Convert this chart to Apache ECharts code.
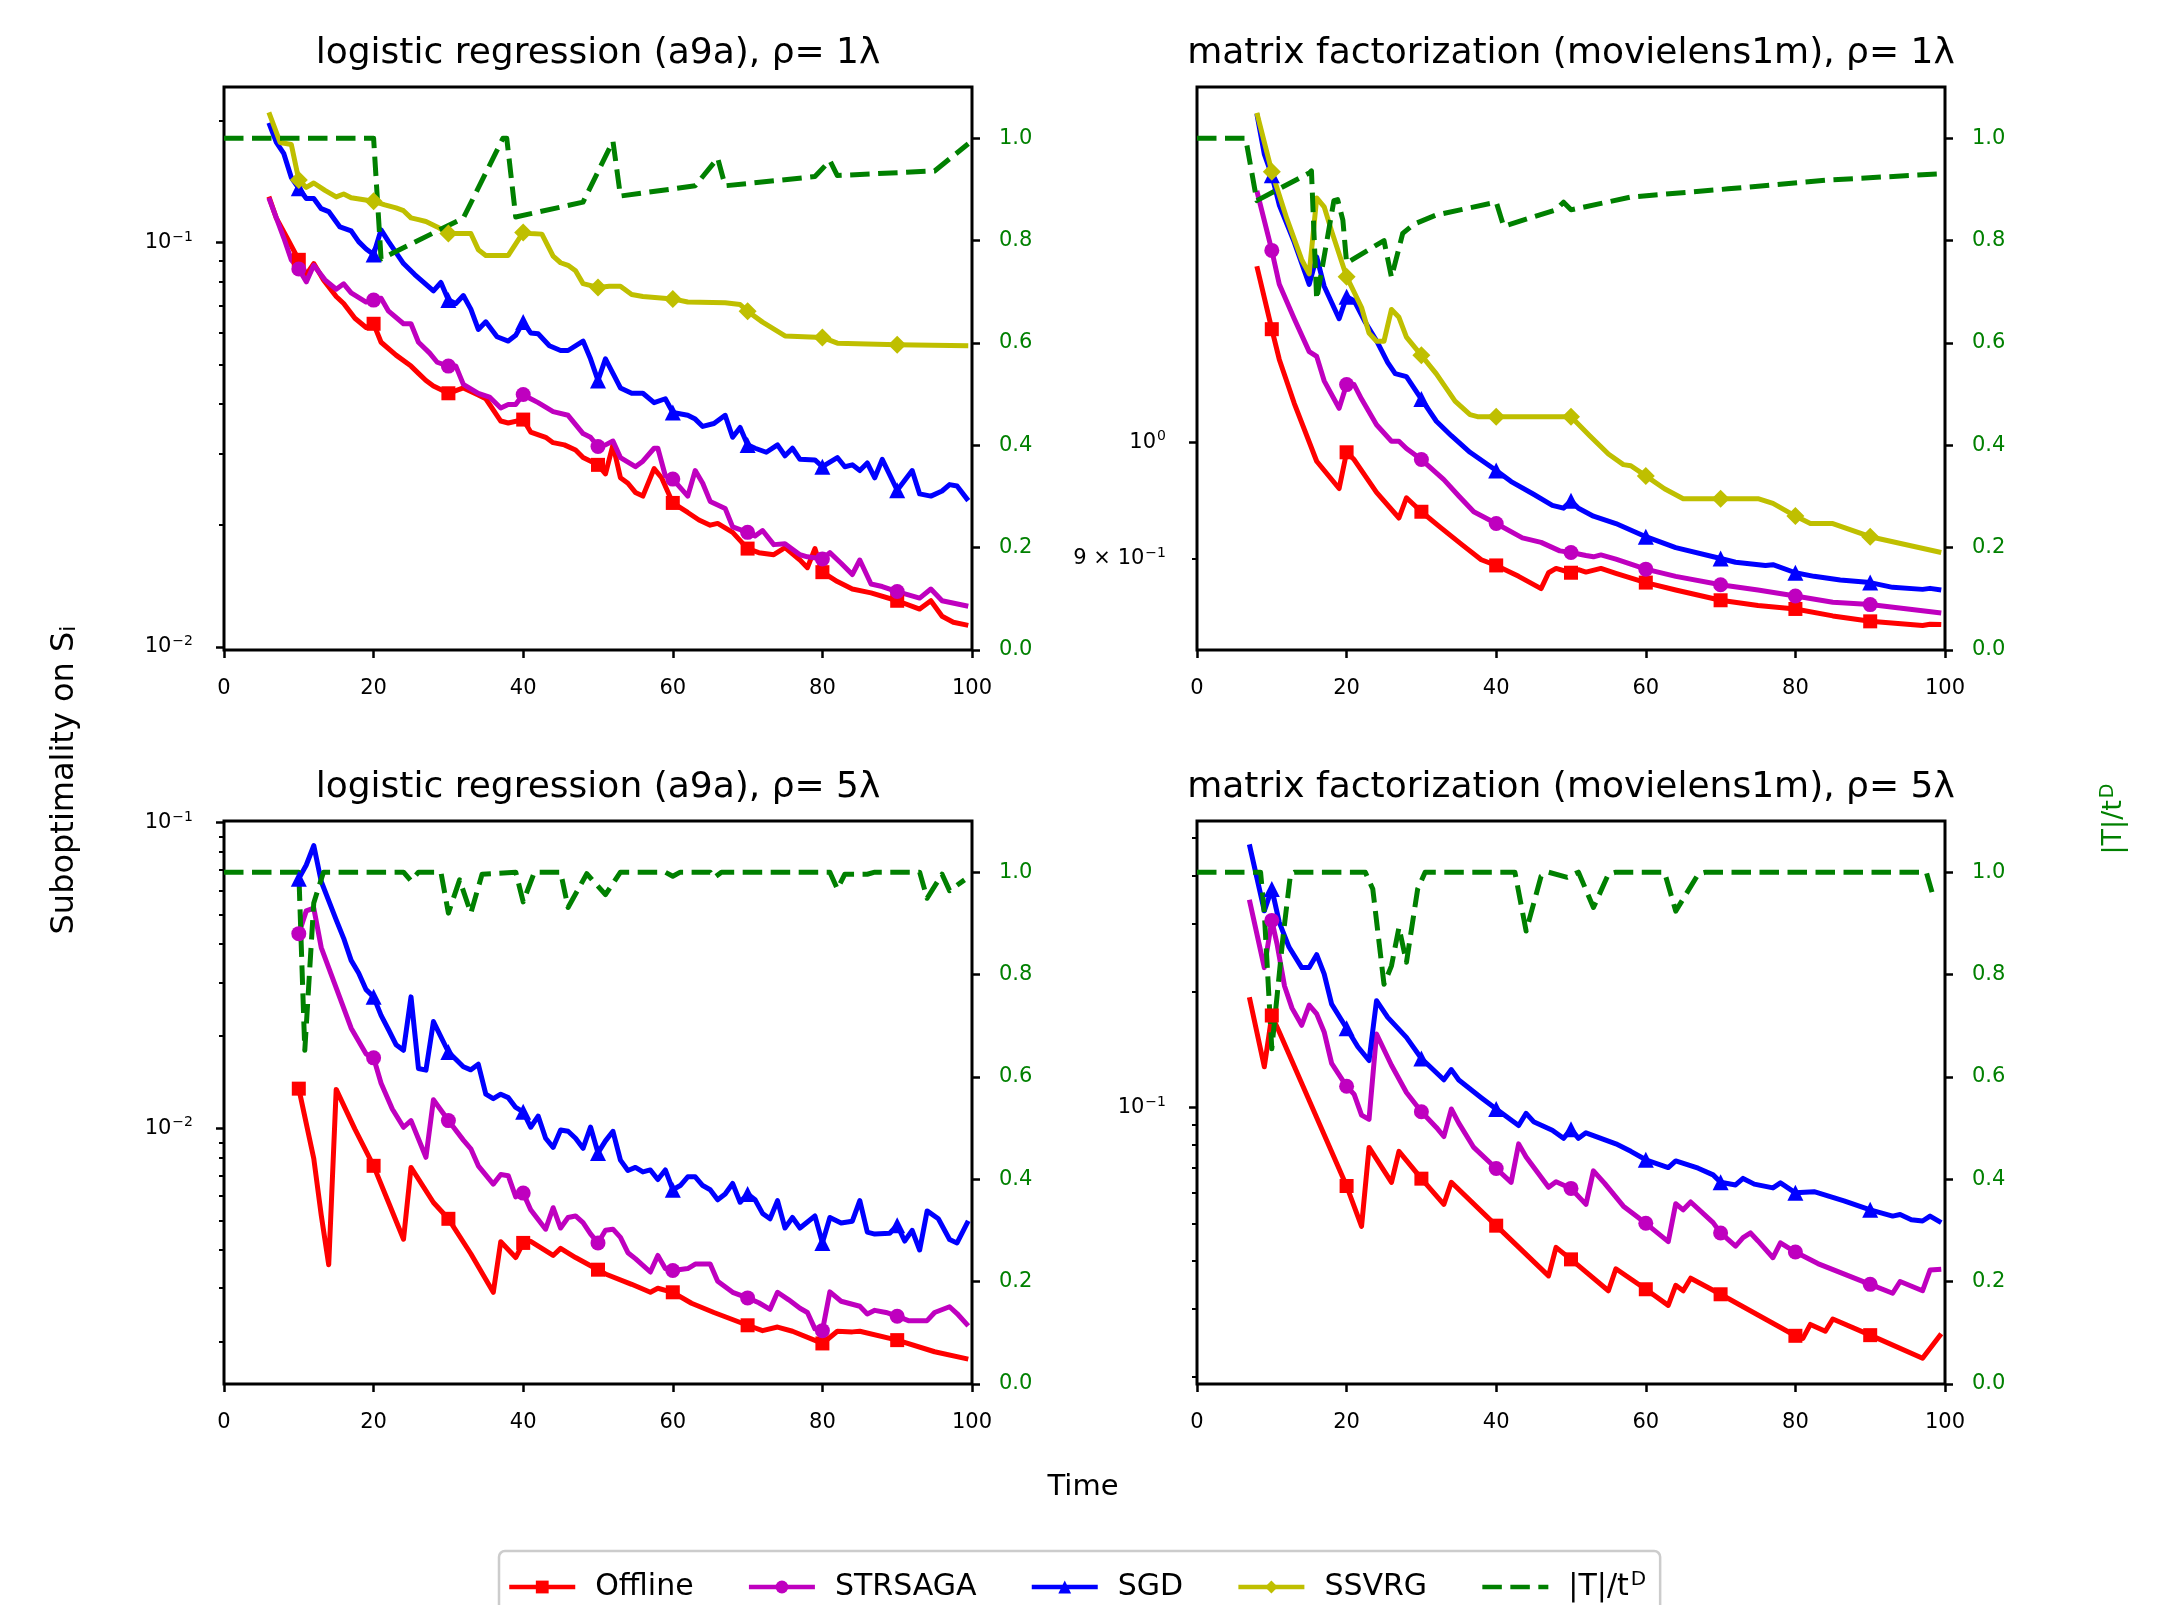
<!DOCTYPE html>
<html>
<head>
<meta charset="utf-8">
<script src="https://cdn.jsdelivr.net/npm/echarts@6/dist/echarts.min.js"></script>
<style>
  html, body { margin: 0; padding: 0; background: #fff; }
  #chart { width: 2175px; height: 1605px; }
</style>
</head>
<body>
<div id="chart"></div>
<script>
// ---- data: logistic regression (a9a), rho = 1 lambda ----
var lr1Offline = [[6,0.130],[7,0.115],[8.4,0.103],[10,0.0907],[11,0.0834],[12,0.0888],[13.3,0.0809],[15,0.0736],[16,0.0707],[17.5,0.065],[19,0.0617],[20,0.063],[21,0.0567],[23,0.0527],[25,0.0495],[26,0.0475],[27,0.0456],[28,0.0442],[30,0.0424],[32,0.0437],[34,0.042],[35,0.0411],[37,0.0362],[38,0.0358],[40,0.0365],[41,0.034],[43,0.033],[44,0.032],[45.5,0.0316],[47,0.0307],[48,0.0294],[50,0.0282],[51,0.0268],[52,0.0316],[53,0.0262],[54,0.0254],[55,0.0241],[56,0.0236],[57.5,0.0276],[58.5,0.0262],[60,0.0227],[62,0.0215],[63.5,0.0206],[65,0.020],[66,0.0202],[68,0.0192],[70,0.0175],[71.5,0.0171],[73.5,0.0169],[75,0.0176],[77,0.0164],[78,0.0157],[79,0.0175],[80,0.0153],[82,0.0145],[84,0.0139],[86.5,0.0136],[90,0.013],[93,0.0124],[94.5,0.013],[96,0.0119],[97.5,0.0115],[99.5,0.0113]];
var lr1Strsaga = [[6,0.129],[8,0.1027],[9,0.0907],[10,0.0861],[11,0.080],[12,0.0879],[13.5,0.0809],[15,0.0767],[16,0.0791],[17,0.0751],[19,0.0713],[20,0.0721],[21,0.0729],[22,0.0677],[24,0.063],[25,0.063],[26,0.0567],[27.5,0.0533],[28.5,0.0506],[30,0.0495],[31,0.0495],[32,0.0446],[34,0.0424],[35.5,0.0415],[37,0.039],[38,0.0398],[39,0.0398],[40,0.0421],[41,0.0411],[42,0.0402],[44,0.0382],[46,0.0374],[48,0.0337],[49,0.033],[50,0.0313],[51,0.0316],[52,0.0323],[53,0.0294],[55,0.0279],[56,0.0288],[57.5,0.031],[58,0.031],[59,0.0265],[60,0.026],[62,0.0236],[63,0.0273],[64,0.0254],[65,0.0229],[67,0.022],[68,0.0198],[70,0.0192],[71,0.0188],[72,0.0194],[73.5,0.0179],[75,0.018],[77,0.0169],[78,0.0167],[80,0.0165],[81,0.0171],[82.5,0.0161],[84,0.0151],[85,0.0164],[86.5,0.0143],[88,0.0141],[90,0.0137],[93,0.0132],[94.5,0.0139],[96,0.013],[99.5,0.0126]];
var lr1Sgd = [[6,0.198],[7,0.177],[8,0.166],[9,0.145],[10,0.1363],[11,0.1287],[12,0.1287],[13,0.1214],[14,0.1194],[15.5,0.1094],[17,0.107],[18,0.1006],[19,0.0965],[20,0.0935],[21,0.1076],[22,0.1006],[24,0.0888],[25.5,0.0834],[28,0.076],[29,0.0797],[30,0.0721],[31,0.0707],[32,0.074],[33,0.0685],[34,0.061],[35,0.0637],[36.5,0.0585],[38,0.0571],[39,0.059],[40,0.0636],[41,0.0598],[42,0.0595],[43.5,0.0556],[45,0.0541],[46,0.0541],[48,0.0571],[49,0.0516],[50,0.0456],[51,0.0516],[52,0.0475],[53,0.0437],[54.5,0.0424],[56,0.0424],[57.5,0.0402],[59,0.0411],[60,0.038],[62,0.0374],[63,0.0366],[64,0.0351],[65.5,0.0357],[67,0.0374],[68,0.033],[69,0.0349],[70,0.0316],[71,0.031],[72.5,0.0303],[74,0.0316],[75,0.0297],[76,0.031],[77,0.0291],[79,0.029],[80,0.0279],[82,0.0294],[83,0.0279],[84,0.0282],[85,0.0273],[86,0.0285],[87,0.0262],[88,0.0291],[90,0.0244],[92,0.0273],[93,0.0239],[94.5,0.0236],[96,0.0243],[97,0.0252],[98,0.025],[99.5,0.023]];
var lr1Ssvrg = [[6,0.21],[7.5,0.177],[9,0.175],[10,0.143],[11,0.137],[12,0.1405],[13.5,0.1347],[15,0.1298],[16,0.132],[17,0.1292],[18.5,0.1279],[20,0.1266],[21.5,0.124],[23,0.1219],[24,0.12],[25,0.1152],[26,0.114],[27,0.1128],[28.5,0.1094],[30,0.1054],[31.5,0.1054],[33,0.1054],[34,0.0961],[35,0.093],[38,0.093],[40,0.106],[41,0.1054],[42.5,0.105],[44,0.0926],[45,0.0892],[46,0.0879],[47,0.0852],[48,0.0792],[50,0.0775],[51.5,0.078],[53,0.078],[54.5,0.0744],[56,0.0736],[60,0.0726],[62,0.0713],[67,0.071],[69,0.0703],[70,0.0677],[72,0.0636],[75,0.0588],[80,0.0583],[82,0.0564],[90,0.0559],[99.5,0.0556]];
var lr1Ratio = [[0,1],[20,1],[21,0.764],[32,0.844],[37.3,1],[37.8,1],[39,0.846],[48,0.875],[52,0.994],[53,0.887],[63,0.907],[66,0.961],[67,0.907],[79,0.925],[81,0.956],[82,0.927],[95,0.936],[99.5,0.989]];

// ---- data: matrix factorization (movielens1m), rho = 1 lambda ----
var mf1Offline = [[8,1.173],[10,1.108],[11,1.078],[13,1.036],[16,0.983],[19,0.959],[20,0.991],[21,0.9845],[24,0.9556],[27,0.9337],[28,0.951],[29,0.945],[30,0.939],[32.5,0.926],[35.5,0.911],[38,0.899],[40,0.8944],[43,0.8856],[46,0.8758],[47,0.8885],[48,0.892],[50,0.8885],[51,0.891],[52,0.889],[54,0.892],[56,0.888],[60,0.8806],[64,0.8747],[70,0.8666],[75,0.8625],[80,0.8598],[85,0.8544],[90,0.8502],[97,0.847],[98,0.848],[99.5,0.8477]];
var mf1Strsaga = [[8,1.256],[10,1.19],[11,1.154],[13,1.1185],[15,1.0857],[16,1.081],[17,1.0573],[19,1.0313],[20,1.0537],[21,1.0537],[22,1.04],[24,1.016],[26,1.001],[27,1.001],[28,0.9944],[30,0.9845],[33,0.9668],[35,0.9525],[37,0.939],[40,0.929],[43.5,0.917],[46,0.9133],[48.5,0.9063],[50,0.905],[52,0.9025],[53,0.9014],[54,0.903],[56,0.8995],[60,0.8914],[64,0.8856],[70,0.8789],[75,0.8747],[80,0.87],[85,0.865],[90,0.8632],[99.5,0.8566]];
var mf1Sgd = [[8,1.347],[9,1.2985],[10,1.274],[11,1.24],[13,1.199],[15,1.154],[16,1.183],[17,1.152],[19,1.1185],[20,1.141],[21,1.137],[22.5,1.115],[24,1.0965],[25.5,1.075],[26.5,1.0642],[28,1.0614],[30,1.04],[32,1.0193],[34,1.006],[36.5,0.991],[40,0.9748],[42,0.965],[45,0.954],[47.5,0.9445],[49,0.9421],[50,0.9484],[51,0.942],[53,0.9352],[56,0.929],[60,0.918],[64,0.909],[70,0.9],[72,0.897],[76,0.8944],[77,0.895],[80,0.8885],[82.5,0.8856],[86,0.8827],[90,0.8806],[93,0.8768],[97,0.8752],[98,0.876],[99.5,0.8747]];
var mf1Ssvrg = [[8,1.348],[10,1.278],[12,1.225],[14,1.18],[15,1.165],[16,1.248],[17,1.238],[18,1.211],[20,1.162],[22,1.13],[23,1.104],[24,1.096],[25,1.096],[26,1.128],[27,1.12],[28,1.1],[30,1.082],[32,1.064],[34.5,1.038],[36.5,1.0254],[37.5,1.0235],[40,1.0235],[50,1.0235],[52.5,1.006],[55,0.9894],[57,0.98],[58,0.979],[60,0.97],[62.5,0.9588],[65,0.9502],[70,0.9502],[75,0.9502],[77,0.9462],[80,0.9353],[82,0.929],[85,0.929],[90,0.918],[99.5,0.905]];
var mf1Ratio = [[0,1],[6.5,1],[8,0.878],[15,0.932],[15.3,0.936],[16,0.685],[18.3,0.878],[18.8,0.88],[19.5,0.84],[20,0.756],[25,0.80],[26,0.728],[27.5,0.814],[29,0.832],[32,0.85],[40,0.875],[41,0.828],[48,0.86],[49,0.875],[50,0.86],[58,0.885],[71,0.901],[84,0.918],[99,0.93]];

// ---- data: logistic regression (a9a), rho = 5 lambda ----
var lr5Offline = [[10,0.01348],[12,0.00797],[13,0.0052],[14,0.00358],[15,0.0134],[17.5,0.00994],[20,0.00754],[22,0.00572],[24,0.00434],[25,0.00745],[28,0.00572],[30,0.00506],[33,0.00389],[36,0.00291],[37,0.00426],[39,0.00378],[40,0.00422],[41,0.00427],[44,0.00384],[45,0.00405],[47,0.00378],[50,0.00345],[51,0.00334],[54.5,0.00309],[57,0.00291],[58,0.003],[60,0.00291],[62.5,0.00268],[65.5,0.0025],[70,0.00227],[72,0.00218],[74,0.00224],[76,0.00217],[80,0.00198],[82,0.00217],[84,0.00216],[85,0.00217],[90,0.00203],[95,0.00186],[99.5,0.00176]];
var lr5Strsaga = [[10,0.0433],[11,0.0514],[12,0.0525],[13,0.039],[15,0.0288],[17,0.02125],[19,0.0175],[20,0.017],[21,0.01404],[22.5,0.01157],[24,0.01008],[25,0.0106],[27,0.00804],[28,0.0124],[30,0.0106],[32,0.00915],[33,0.00857],[34,0.00754],[36,0.00657],[37,0.00706],[38,0.007],[39,0.00597],[40,0.00614],[41,0.00542],[43,0.00468],[44,0.0055],[45,0.00472],[46,0.00511],[47,0.00517],[48,0.00492],[49,0.00452],[50,0.00422],[51,0.00464],[52,0.00468],[53,0.0044],[54,0.00392],[55,0.00375],[57,0.00339],[58,0.00384],[59,0.00348],[60,0.00343],[62,0.00348],[63,0.0036],[65,0.0036],[66,0.00316],[68,0.00291],[70,0.00279],[71.5,0.00269],[73,0.00256],[74,0.00291],[75.5,0.00275],[77,0.00258],[78,0.0025],[79,0.00221],[80,0.00218],[81,0.00292],[82.5,0.00272],[85,0.00262],[86,0.00247],[87,0.00254],[88.5,0.0025],[90,0.00243],[91.5,0.00235],[94,0.00235],[95,0.0025],[97,0.00261],[98,0.00248],[99.5,0.00226]];
var lr5Sgd = [[10,0.0655],[11,0.0726],[12,0.084],[13,0.0641],[15,0.048],[16,0.0418],[17,0.0354],[18,0.0322],[19,0.0284],[20,0.0269],[21,0.0234],[22,0.021],[23,0.01877],[24,0.018],[25,0.0269],[26,0.01569],[27,0.0155],[28,0.02234],[30,0.01776],[32,0.0159],[33,0.01553],[34,0.0162],[35,0.01293],[36,0.0125],[37,0.01293],[38,0.0126],[39,0.0117],[40,0.01132],[41,0.01008],[42,0.01097],[43,0.00928],[44,0.00866],[45,0.00988],[46,0.00978],[47,0.00928],[48,0.0086],[49,0.0101],[50,0.00831],[51,0.0091],[52,0.00978],[53,0.00787],[54,0.00728],[55,0.00745],[56,0.0072],[57,0.00731],[58,0.0068],[59,0.00731],[60,0.0063],[61,0.0065],[62,0.00694],[63,0.00694],[64,0.0065],[65,0.0063],[66,0.00584],[67,0.0061],[68,0.0066],[69,0.00573],[70,0.0061],[71,0.00584],[72,0.00527],[73,0.00506],[74,0.0058],[75,0.00472],[76,0.00511],[77,0.00472],[79,0.00517],[80,0.00422],[81,0.00511],[82.5,0.0049],[84,0.00497],[85,0.0058],[86,0.00458],[87,0.00451],[89,0.00454],[90,0.00482],[91,0.00428],[92,0.00464],[93,0.004],[94,0.00537],[95.5,0.00506],[97,0.00433],[98,0.00422],[99.5,0.00498]];
var lr5Ratio = [[0,1],[10,1],[10.8,0.652],[12,0.94],[13.3,1],[24,1],[25,0.983],[26,1],[29,1],[30,0.92],[31.5,0.985],[33,0.92],[34.5,0.996],[39,1],[40,0.942],[41.5,1],[45,1],[46,0.931],[48.5,0.997],[51,0.956],[53,1],[59,1],[60,0.992],[61,1],[65,1],[65.5,0.989],[66.5,1],[81,1],[82,0.967],[83,0.996],[86,0.996],[87,1],[93,1],[94,0.949],[96,0.996],[97,0.964],[99,0.985]];

// ---- data: matrix factorization (movielens1m), rho = 5 lambda ----
var mf5Offline = [[7,0.1932],[9,0.1275],[10,0.1732],[11,0.157],[20,0.0626],[22,0.0492],[23,0.0788],[26,0.064],[27,0.077],[30,0.0654],[33,0.0561],[34,0.064],[40,0.0494],[47,0.0366],[48,0.0434],[50,0.0404],[55,0.0335],[56,0.0382],[60,0.0338],[63,0.0307],[64,0.0346],[65,0.0335],[66,0.0361],[70,0.0328],[80,0.0256],[81,0.0252],[82,0.0274],[84,0.0263],[85,0.0283],[90,0.0257],[97,0.0224],[99.5,0.0259]];
var mf5Strsaga = [[7,0.3455],[9,0.2305],[10,0.3055],[10.7,0.2655],[11.7,0.2065],[12.7,0.181],[14,0.1634],[15,0.1843],[16,0.1749],[17,0.157],[18,0.1301],[20,0.1135],[21,0.1083],[22,0.0956],[23,0.0932],[24,0.1551],[26,0.1287],[28,0.1094],[30,0.0975],[32,0.0888],[33,0.0841],[34,0.0991],[35,0.0911],[37,0.0788],[40,0.0695],[42,0.064],[43,0.0805],[44,0.0744],[47,0.0621],[48,0.0642],[50,0.0617],[52,0.0561],[53,0.0685],[54.5,0.0636],[57,0.0555],[60,0.0501],[63,0.0449],[64,0.0563],[65,0.0543],[66,0.0569],[69,0.0503],[70,0.0473],[72,0.0437],[73,0.046],[74,0.0473],[75,0.0451],[77,0.0408],[78,0.0446],[80,0.0422],[83,0.0394],[90,0.0348],[93,0.033],[94,0.0354],[97,0.0335],[98,0.0379],[99.5,0.0381]];
var mf5Sgd = [[7,0.481],[9,0.3235],[10,0.3687],[11,0.302],[12.3,0.2606],[14,0.2305],[15,0.2305],[16,0.249],[17,0.222],[18,0.1853],[20,0.1605],[21.5,0.1437],[23,0.1324],[24,0.1892],[25.5,0.1713],[28,0.152],[30,0.134],[33,0.118],[34,0.1254],[35,0.1178],[38,0.106],[40,0.0991],[43,0.0898],[44,0.0966],[45,0.0919],[47.5,0.0873],[49,0.0832],[50,0.0879],[51,0.0832],[52,0.086],[54,0.0832],[56,0.0805],[58,0.077],[60,0.0732],[63,0.0699],[64,0.0727],[67,0.0696],[69,0.0669],[70,0.064],[72,0.063],[73,0.0655],[74.5,0.0633],[77,0.0619],[78,0.0638],[80,0.0601],[82.5,0.0605],[86.5,0.0573],[90,0.0543],[93,0.0523],[94,0.0528],[95.5,0.0512],[97,0.0508],[98,0.0523],[99.5,0.0503]];
var mf5Ratio = [[0,1],[8.5,1],[9,0.92],[10,0.655],[11.5,0.874],[12.5,0.996],[13,1],[22.5,1],[23.5,0.967],[25,0.781],[26,0.817],[27,0.892],[28,0.824],[29.5,0.967],[30.5,1],[42.5,1],[44,0.885],[46,0.992],[47,1],[49.5,0.99],[51,1],[53,0.931],[55,0.996],[56,1],[62.5,1],[64,0.924],[67,0.996],[68,1],[97.5,1],[98.5,0.949]];

// tick values
var xTicks = [0, 20, 40, 60, 80, 100];
var ratioTicks = [0, 0.2, 0.4, 0.6, 0.8, 1.0];
var markTimes = [10, 20, 30, 40, 50, 60, 70, 80, 90];

var FONT = '"DejaVu Sans", "Liberation Sans", sans-serif';
var GREEN = '#008000';
var RATIO_NAME = '|T|/t^D';

var styles = {
  Offline: { color: '#ff0000', symbol: 'rect', size: 14 },
  STRSAGA: { color: '#bf00bf', symbol: 'circle', size: 15 },
  SGD:     { color: '#0000ff', symbol: 'triangle', size: 16 },
  SSVRG:   { color: '#bfbf00', symbol: 'diamond', size: 18 }
};

var panels = [
  { title: 'logistic regression (a9a), ρ= 1λ', left: 224, top: 87,
    lines: { Offline: lr1Offline, STRSAGA: lr1Strsaga, SGD: lr1Sgd, SSVRG: lr1Ssvrg }, ratio: lr1Ratio,
    ymin: 0.00982, ymax: 0.2428, labels: [0.01, 0.1], major: [0.01, 0.1],
    minor: [0.02,0.03,0.04,0.05,0.06,0.07,0.08,0.09,0.2] },
  { title: 'matrix factorization (movielens1m), ρ= 1λ', left: 1197, top: 87,
    lines: { Offline: mf1Offline, STRSAGA: mf1Strsaga, SGD: mf1Sgd, SSVRG: mf1Ssvrg }, ratio: mf1Ratio,
    ymin: 0.8284, ymax: 1.380, labels: [0.9, 1], major: [1], minor: [0.9] },
  { title: 'logistic regression (a9a), ρ= 5λ', left: 224, top: 821,
    lines: { Offline: lr5Offline, STRSAGA: lr5Strsaga, SGD: lr5Sgd }, ratio: lr5Ratio,
    ymin: 0.001459, ymax: 0.1011, labels: [0.01, 0.1], major: [0.01, 0.1],
    minor: [0.002,0.003,0.004,0.005,0.006,0.007,0.008,0.009,0.02,0.03,0.04,0.05,0.06,0.07,0.08,0.09] },
  { title: 'matrix factorization (movielens1m), ρ= 5λ', left: 1197, top: 821,
    lines: { Offline: mf5Offline, STRSAGA: mf5Strsaga, SGD: mf5Sgd }, ratio: mf5Ratio,
    ymin: 0.0192, ymax: 0.553, labels: [0.1], major: [0.1],
    minor: [0.02,0.03,0.04,0.05,0.06,0.07,0.08,0.09,0.2,0.3,0.4,0.5] }
];
var W = 748, H = 563;

function logLabel(v) {
  var e = Math.floor(Math.log10(v) + 1e-9);
  var m = Math.round(v / Math.pow(10, e));
  var ex = (e < 0 ? '−' : '') + Math.abs(e);
  return (m === 1 ? '' : m + ' × ') + '10{s|' + ex + '}';
}

function markSize(size) {
  return function (v) { return markTimes.indexOf(v[0]) >= 0 ? size : 0; };
}

var grids = [], xAxes = [], yAxes = [], series = [], graphics = [];
var n = panels.length;

panels.forEach(function (p, i) {
  grids.push({ left: p.left, top: p.top, width: W, height: H, show: true,
    borderColor: '#000', borderWidth: 3, containLabel: false, outerBoundsMode: 'none' });
  xAxes.push({ type: 'value', gridIndex: i, min: 0, max: 100, interval: 20,
    axisLine: { show: false }, splitLine: { show: false },
    axisTick: { show: true, length: 8, lineStyle: { color: '#000', width: 2.5 } },
    axisLabel: { color: '#000', fontFamily: FONT, fontSize: 21, margin: 28 } });
  // main log axis: decade ticks + labels
  yAxes[i] = { type: 'log', logBase: 10, gridIndex: i, position: 'left',
    min: p.ymin, max: p.ymax,
    axisLine: { show: false }, splitLine: { show: false },
    axisTick: { show: true, length: 8, customValues: p.major, lineStyle: { color: '#000', width: 2.5 } },
    axisLabel: { customValues: p.labels, formatter: logLabel, color: '#000', fontFamily: FONT, fontSize: 21, margin: 31,
      rich: { s: { fontSize: 14, fontFamily: FONT, color: '#000', padding: [0, 0, 11, 1] } } } };
  // right axis for |T|/t^D
  yAxes[n + i] = { type: 'value', gridIndex: i, position: 'right', min: 0, max: 1.1,
    axisLine: { show: false }, splitLine: { show: false },
    axisTick: { show: true, length: 8, customValues: ratioTicks, lineStyle: { color: '#000', width: 2.5 } },
    axisLabel: { customValues: ratioTicks, color: GREEN, fontFamily: FONT, fontSize: 21, margin: 27,
      formatter: function (v) { return v.toFixed(1); } } };

  Object.keys(p.lines).forEach(function (name) {
    var st = styles[name];
    series.push({ name: name, type: 'line', xAxisIndex: i, yAxisIndex: i, data: p.lines[name],
      symbol: st.symbol, symbolSize: markSize(st.size), showSymbol: true,
      lineStyle: { color: st.color, width: 5, join: 'round' }, itemStyle: { color: st.color },
      emphasis: { disabled: true } });
  });
  series.push({ name: RATIO_NAME, type: 'line', xAxisIndex: i, yAxisIndex: n + i, data: p.ratio,
    symbol: 'none', lineStyle: { color: GREEN, width: 5, type: [19.5, 8.5], join: 'round' }, itemStyle: { color: GREEN },
    emphasis: { disabled: true } });

  graphics.push({ type: 'text', x: p.left + W / 2, y: p.top - 33,
    style: { text: p.title, fill: '#000', fontFamily: FONT, fontSize: 36, align: 'center', verticalAlign: 'middle' } });
});

// overlay grids carrying the shorter minor ticks of the log axes
panels.forEach(function (p, i) {
  grids.push({ left: p.left, top: p.top, width: W, height: H, show: false, containLabel: false, outerBoundsMode: 'none' });
  xAxes.push({ type: 'value', gridIndex: n + i, min: 0, max: 100, show: false });
  yAxes[2 * n + i] = { type: 'log', logBase: 10, gridIndex: n + i, position: 'left',
    min: p.ymin, max: p.ymax,
    axisLine: { show: false }, splitLine: { show: false }, axisLabel: { show: false },
    axisTick: { show: true, length: 5, customValues: p.minor, lineStyle: { color: '#000', width: 2 } } };
});

graphics.push({ type: 'text', x: 69, y: 780, rotation: Math.PI / 2,
  style: { text: '{m|Suboptimality on S}{b|i}', fill: '#000', fontFamily: FONT, fontSize: 32,
    align: 'center', verticalAlign: 'middle',
    rich: { m: { fontFamily: FONT, fontSize: 32, padding: [0, 0, 8, 0] }, b: { fontFamily: FONT, fontSize: 22 } } } });
graphics.push({ type: 'text', x: 1083, y: 1487,
  style: { text: 'Time', fill: '#000', fontFamily: FONT, fontSize: 29, align: 'center', verticalAlign: 'middle' } });
graphics.push({ type: 'text', x: 2114, y: 819, rotation: Math.PI / 2,
  style: { text: '|T|/t{s|D}', fill: GREEN, fontFamily: FONT, fontSize: 27, align: 'center', verticalAlign: 'middle',
    rich: { s: { fontFamily: FONT, fontSize: 19, fill: GREEN, padding: [0, 0, 12, 2] } } } });

var chart = echarts.init(document.getElementById('chart'));
chart.setOption({
  animation: false,
  backgroundColor: '#fff',
  grid: grids,
  xAxis: xAxes,
  yAxis: yAxes,
  series: series,
  graphic: graphics,
  legend: {
    left: 499, top: 1551,
    data: ['Offline', 'STRSAGA', 'SGD', 'SSVRG', { name: RATIO_NAME, itemStyle: { opacity: 0 } }],
    itemWidth: 66, itemHeight: 16, itemGap: 53,
    padding: [19, 14, 40, 8],
    borderColor: '#cccccc', borderWidth: 2.5, borderRadius: 6, backgroundColor: '#fff',
    lineStyle: { width: 4.5 },
    formatter: function (name) { return name === RATIO_NAME ? '|T|/t{s|D}' : name; },
    textStyle: { color: '#000', fontFamily: FONT, fontSize: 30, padding: [0, 0, 0, 15],
      rich: { s: { fontFamily: FONT, fontSize: 20, padding: [0, 0, 14, 2] } } }
  }
});
</script>
</body>
</html>
